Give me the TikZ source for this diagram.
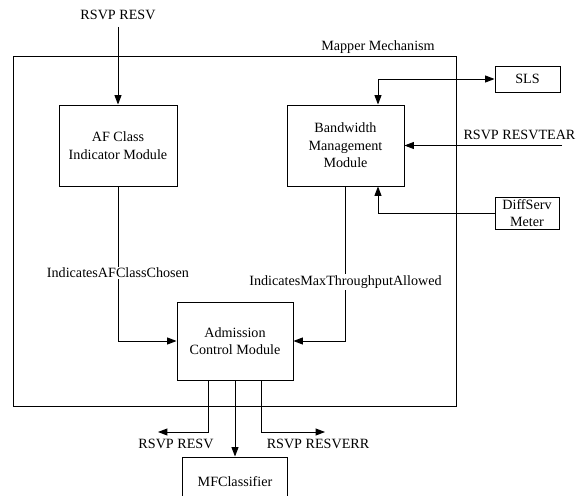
\documentclass[tikz,border=0pt]{standalone}
\usepackage{fontspec}
\setmainfont{Liberation Serif}
\usepackage{tikz}
\usetikzlibrary{arrows.meta,positioning,calc}

\begin{document}
\begin{tikzpicture}[x=0.75pt,y=-0.75pt,
  font=\fontsize{10.6}{13.2}\selectfont,
  line width=0.7pt,
  modbox/.style={draw,align=center,inner sep=0pt},
  txt/.style={inner sep=1pt,align=center},
  arr/.style={-{Triangle[length=7pt,width=5.2pt]}},
  arrboth/.style={{Triangle[length=7pt,width=5.2pt]}-{Triangle[length=7pt,width=5.2pt]}}]
\useasboundingbox (0,0) rectangle (583,496);
\clip (0,0) rectangle (583,496);
% the mapper
\draw (13,56) rectangle (456,406);
\node[txt] (mapper) at (378,47) {Mapper Mechanism};

\node[modbox,minimum width=88.5pt,minimum height=60.75pt] (af) at (118,145.5) {AF Class\\Indicator Module};
\node[modbox,minimum width=87.75pt,minimum height=60.75pt] (bw) at (345.5,145.5) {Bandwidth\\Management\\Module};
\node[modbox,minimum width=87pt,minimum height=58.5pt] (adm) at (235,341) {Admission\\Control Module};
\node[modbox,minimum width=48.75pt,minimum height=19.5pt] (sls) at (527.5,79) {SLS};
\node[modbox,minimum width=48pt,minimum height=24pt] (dsm) at (527,213) {DiffServ\\Meter};
\node[modbox,minimum width=78.75pt,minimum height=37.5pt] (mfc) at (235,482) {MFClassifier};

% inputs
\node[txt] (resvin) at (118,15) {RSVP RESV};
\draw[arr] ([yshift=-4pt]resvin.south) -- (af.north);
\coordinate (tearin) at (562,145.5);
\draw[arr] (tearin) -- (bw.east) node[pos=0.27,above=1pt] {RSVP RESVTEAR};
\draw[arrboth] (sls.west) -| ($(bw.north)+(32.5,0)$);
\draw[arr] (dsm.west) -| ($(bw.south)+(32.5,0)$);

% to admission control
\draw[arr] (af.south) |- (adm.west);
\draw[arr] (bw.south) |- (adm.east);
\node[txt,fill=white] (afchosen) at (118,273) {IndicatesAFClassChosen};
\node[txt,fill=white] (maxtp) at (345.5,282) {IndicatesMaxThroughputAllowed};

% outputs
\coordinate (resvout) at (158,432);
\coordinate (errout) at (325,432);
\draw[arr] ($(adm.south)+(-27,0)$) |- (resvout);
\draw[arr] ($(adm.south)+(26,0)$) |- (errout);
\draw[arr] (adm.south) -- (mfc.north);
\node[txt] (resvlbl) at (176,444) {RSVP RESV};
\node[txt] (errlbl) at (318,444) {RSVP RESVERR};
\end{tikzpicture}
\end{document}
